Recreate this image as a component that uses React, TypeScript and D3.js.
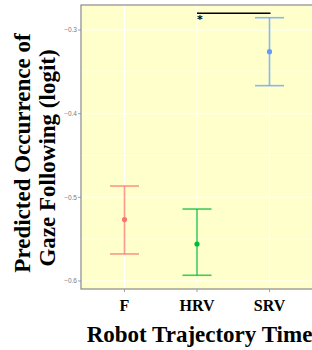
import React from "react";
import * as d3 from "d3";

const categories = ["F", "HRV", "SRV"];
const means = [-0.5266, -0.5558, -0.3259];
const lowers = [-0.5677, -0.5932, -0.3665];
const uppers = [-0.4865, -0.514, -0.2853];
const colors = ["#F8766D", "#00BA38", "#619CFF"];
const yTicks = [-0.6, -0.5, -0.4, -0.3];
const yMinor = [-0.55, -0.45, -0.35];
const sigPair = ["HRV", "SRV"];

export default function App() {
  const W = 312, H = 350;
  const left = 81, right = 313, top = 5, bottom = 289;
  const y = d3.scaleLinear().domain([-0.6096, -0.2701]).range([bottom, top]);
  const x = d3.scalePoint<string>().domain(categories).range([left, right]).padding(0.6);
  const cap = 14.5;
  const serif = "'Liberation Serif', 'Times New Roman', serif";
  const sigY = 13.3;
  return (
    <svg width={W} height={H} style={{ position: "absolute", left: 0, top: 0 }}>
      <rect x={left} y={top} width={right - left} height={bottom - top} fill="#FFFFCC" />
      {yMinor.map((v) => (
        <line key={"m" + v} x1={left} x2={right} y1={y(v)} y2={y(v)} stroke="#fff" strokeWidth={0.6} />
      ))}
      {yTicks.map((v) => (
        <line key={"g" + v} x1={left} x2={right} y1={y(v)} y2={y(v)} stroke="#fff" strokeWidth={1.1} />
      ))}
      {categories.map((c) => (
        <line key={"v" + c} x1={x(c)} x2={x(c)} y1={top} y2={bottom} stroke="#fff" strokeWidth={1.1} />
      ))}
      <rect x={left} y={top} width={right - left} height={bottom - top} fill="none" stroke="#8a8a8a" strokeWidth={1.2} />
      {categories.map((c, i) => (
        <g key={"e" + c}>
          <g stroke={colors[i]} strokeWidth={1.6} strokeOpacity={0.75}>
            <line x1={x(c)} x2={x(c)} y1={y(lowers[i])} y2={y(uppers[i])} />
            <line x1={x(c)! - cap} x2={x(c)! + cap} y1={y(lowers[i])} y2={y(lowers[i])} />
            <line x1={x(c)! - cap} x2={x(c)! + cap} y1={y(uppers[i])} y2={y(uppers[i])} />
          </g>
          <circle cx={x(c)} cy={y(means[i])} r={2.6} fill={colors[i]} />
        </g>
      ))}
      <line x1={x(sigPair[0])} x2={x(sigPair[1])! + 1} y1={sigY} y2={sigY} stroke="#000" strokeWidth={1.6} />
      <text x={x(sigPair[0])! + 3} y={sigY + 10} fontSize={11} fontWeight="bold" fontFamily="'DejaVu Sans', sans-serif" textAnchor="middle">*</text>
      {yTicks.map((v) => (
        <g key={"t" + v}>
          <line x1={left - 3} x2={left} y1={y(v)} y2={y(v)} stroke="#8a8a8a" strokeWidth={0.8} />
          <text x={left - 4} y={y(v)} dy="0.35em" fontSize={6.5} fill="#7a7a7a" textAnchor="end" fontFamily="'Liberation Sans', Arial, sans-serif">
            {d3.format(".1f")(v)}
          </text>
        </g>
      ))}
      {categories.map((c) => (
        <g key={"xt" + c}>
          <line x1={x(c)} x2={x(c)} y1={bottom} y2={bottom + 3} stroke="#8a8a8a" strokeWidth={0.8} />
          <text x={x(c)} y={311} fontSize={16} fontWeight="bold" textAnchor="middle" fontFamily={serif}>{c}</text>
        </g>
      ))}
      <text x={199.5} y={342} fontSize={23} fontWeight="bold" textAnchor="middle" fontFamily={serif}>Robot Trajectory Time</text>
      <g transform="translate(30,153) rotate(-90)">
        <text x={0} y={0} fontSize={23} fontWeight="bold" textAnchor="middle" fontFamily={serif}>Predicted Occurrence of</text>
        <text x={-5} y={25} fontSize={23} fontWeight="bold" textAnchor="middle" fontFamily={serif}>Gaze Following (logit)</text>
      </g>
    </svg>
  );
}
